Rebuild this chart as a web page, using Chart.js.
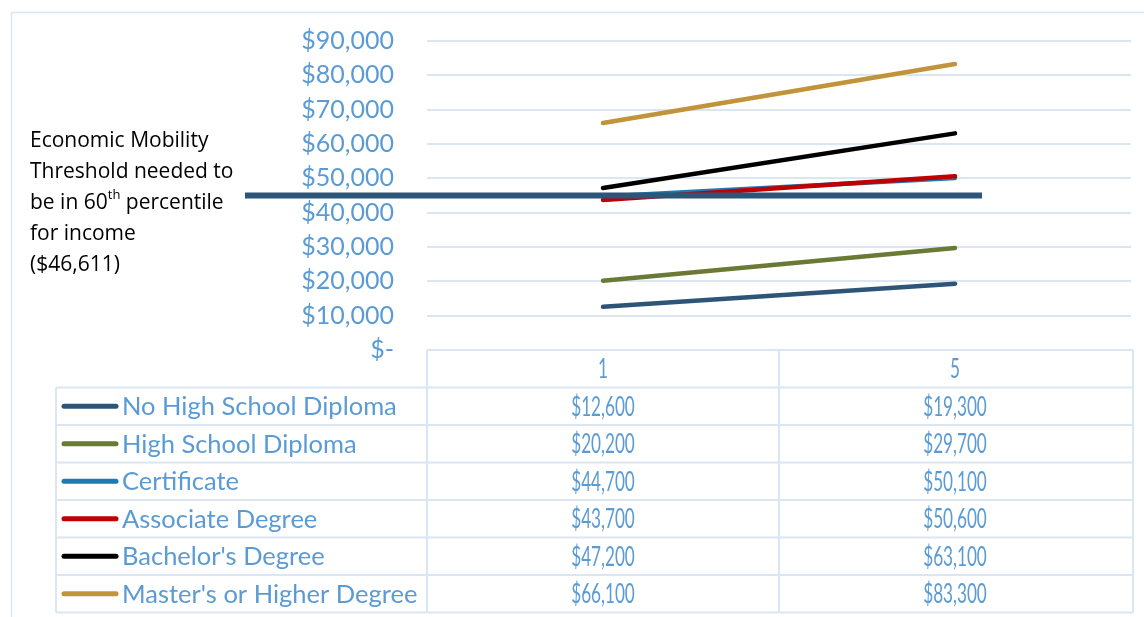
<!DOCTYPE html>
<html>
<head>
<meta charset="utf-8">
<script src="https://cdn.jsdelivr.net/npm/chart.js@4"></script>
<style>
  html, body { margin: 0; padding: 0; background: #fff; }
</style>
</head>
<body>
<canvas id="chart" width="1144" height="617"></canvas>
<script>
// Years after completion (category axis)
const categories = ['1', '5'];

const seriesNames = [
  'No High School Diploma',
  'High School Diploma',
  'Certificate',
  'Associate Degree',
  "Bachelor's Degree",
  "Master's or Higher Degree"
];
const noHighSchool = [12600, 19300];
const highSchool = [20200, 29700];
const certificate = [44700, 50100];
const associate = [43700, 50600];
const bachelor = [47200, 63100];
const masters = [66100, 83300];
const seriesColors = ['#2C5577', '#6A7A35', '#1A7BB5', '#C00000', '#000000', '#C2943A'];

// Y axis
const yMin = 0;
const yMax = 90000;
const yStep = 10000;

// Threshold annotation
const thresholdLines = ['Economic Mobility', 'Threshold needed to', 'be in 60', 'for income', '($46,611)'];
const thresholdLevel = 45000; // where the drawn bar sits on the axis in the picture

const seriesValues = [noHighSchool, highSchool, certificate, associate, bachelor, masters];

const BLUE_TEXT = '#5B9BD5';
const GRID = '#DAE6F2';

function money(v) {
  return v === 0 ? '$-' : '$' + v.toLocaleString('en-US');
}

// draw text squeezed horizontally (the table numbers use a condensed face)
function condensedText(ctx, text, x, y, sx) {
  ctx.save();
  ctx.translate(x, y);
  ctx.scale(sx, 1);
  ctx.fillText(text, 0, 0);
  ctx.restore();
}

const framePlugin = {
  id: 'frame',
  beforeDraw(chart) {
    const ctx = chart.ctx;
    ctx.save();
    ctx.fillStyle = '#fff';
    ctx.fillRect(0, 0, chart.width, chart.height);
    ctx.strokeStyle = GRID;
    ctx.lineWidth = 1.5;
    ctx.strokeRect(11.5, 12.5, 1140, 700);
    ctx.restore();
  }
};

const thresholdPlugin = {
  id: 'threshold',
  afterDatasetsDraw(chart) {
    const ctx = chart.ctx;
    const y = chart.scales.y.getPixelForValue(thresholdLevel);
    const xEnd = chart.scales.x.getPixelForValue(categories.length - 1) + 27;
    ctx.save();
    ctx.strokeStyle = '#2C5577';
    ctx.lineWidth = 6;
    ctx.beginPath();
    ctx.moveTo(245, y);
    ctx.lineTo(xEnd, y);
    ctx.stroke();

    // note text on the left
    ctx.fillStyle = '#000';
    ctx.font = '21px "Open Sans"';
    ctx.textAlign = 'left';
    ctx.textBaseline = 'middle';
    thresholdLines.forEach((t, i) => {
      const ty = 141 + i * 31;
      ctx.fillText(t, 30, ty);
      if (i === 2) {
        let w = ctx.measureText(t).width;
        ctx.font = '13px "Open Sans"';
        ctx.fillText('th', 30 + w, ty - 8);
        w += ctx.measureText('th').width;
        ctx.font = '21px "Open Sans"';
        ctx.fillText(' percentile', 30 + w, ty);
      }
    });
    ctx.restore();
  }
};

const tablePlugin = {
  id: 'dataTable',
  afterDraw(chart) {
    const ctx = chart.ctx;
    const area = chart.chartArea;
    const xs = chart.scales.x;
    const top = area.bottom;
    const rowH = 37.5;
    const legendLeft = 56;
    const colMid = (xs.getPixelForValue(0) + xs.getPixelForValue(1)) / 2;
    const right = area.right + 2;
    const nRows = seriesNames.length;

    ctx.save();
    ctx.strokeStyle = GRID;
    ctx.lineWidth = 2;
    ctx.beginPath();
    // header row
    ctx.moveTo(area.left, top); ctx.lineTo(right, top);
    for (let r = 1; r <= nRows + 1; r++) {
      const y = top + r * rowH;
      ctx.moveTo(legendLeft, y); ctx.lineTo(right, y);
    }
    ctx.moveTo(area.left, top); ctx.lineTo(area.left, top + (nRows + 1) * rowH);
    ctx.moveTo(colMid, top); ctx.lineTo(colMid, top + (nRows + 1) * rowH);
    ctx.moveTo(right, top); ctx.lineTo(right, top + (nRows + 1) * rowH);
    ctx.moveTo(legendLeft, top + rowH); ctx.lineTo(legendLeft, top + (nRows + 1) * rowH);
    ctx.stroke();

    ctx.fillStyle = BLUE_TEXT;
    ctx.textBaseline = 'middle';
    ctx.textAlign = 'center';
    ctx.font = '26px Lato';
    categories.forEach((c, i) => {
      condensedText(ctx, c, xs.getPixelForValue(i), top + rowH / 2 + 1, 0.66);
    });

    seriesNames.forEach((name, r) => {
      const cy = top + (r + 1) * rowH + rowH / 2 + 1;
      // legend key
      ctx.strokeStyle = seriesColors[r];
      ctx.lineWidth = 5;
      ctx.lineCap = 'round';
      ctx.beginPath();
      ctx.moveTo(64, cy - 1); ctx.lineTo(116, cy - 1);
      ctx.stroke();
      ctx.textAlign = 'left';
      ctx.font = '25.5px Lato';
      ctx.fillText(name, 122, cy);
      ctx.textAlign = 'center';
      ctx.font = '26px Lato';
      seriesValues[r].forEach((v, i) => {
        condensedText(ctx, money(v), xs.getPixelForValue(i), cy, 0.66);
      });
    });
    ctx.restore();
  }
};

new Chart(document.getElementById('chart'), {
  type: 'line',
  data: {
    labels: categories,
    datasets: seriesNames.map((name, i) => ({
      label: name,
      data: seriesValues[i],
      borderColor: seriesColors[i],
      backgroundColor: seriesColors[i],
      borderWidth: 4.5,
      borderCapStyle: 'round',
      pointRadius: 0,
      tension: 0,
      order: seriesNames.length - i
    }))
  },
  options: {
    responsive: false,
    animation: false,
    layout: {
      padding: { left: 0, right: 13, top: 41, bottom: 267 }
    },
    plugins: {
      legend: { display: false },
      tooltip: { enabled: false }
    },
    scales: {
      x: {
        display: false,
        offset: true
      },
      y: {
        min: yMin,
        max: yMax,
        afterFit(scale) {
          scale.width = 427;
          // tick padding is horizontal only here
          scale.paddingTop = 15;
          scale.paddingBottom = 15;
        },
        border: { display: false },
        grid: {
          color: GRID,
          lineWidth: 2,
          drawTicks: false
        },
        ticks: {
          stepSize: yStep,
          padding: 33,
          color: BLUE_TEXT,
          font: { family: 'Lato', size: 25 },
          callback: (v) => money(v)
        }
      }
    }
  },
  plugins: [framePlugin, thresholdPlugin, tablePlugin]
});
</script>
</body>
</html>
